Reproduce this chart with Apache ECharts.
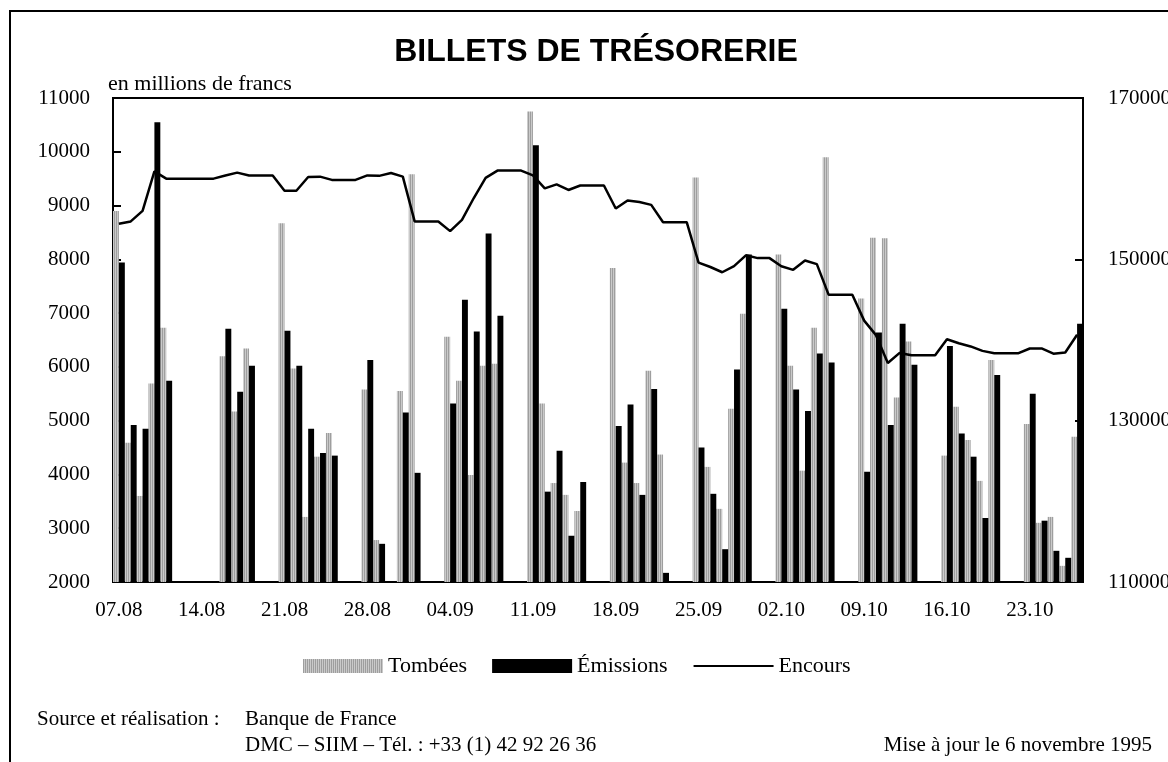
<!DOCTYPE html>
<html>
<head>
<meta charset="utf-8">
<script src="https://cdn.jsdelivr.net/npm/echarts@6.0.0/dist/echarts.min.js"></script>
<style>
html,body{margin:0;padding:0;background:#fff;overflow:hidden;}
#chart{width:1168px;height:762px;}
</style>
</head>
<body>
<div id="chart"></div>
<script>
const categories = ['07.08','08.08','09.08','10.08','11.08','12.08','13.08','14.08','15.08','16.08','17.08','18.08','19.08','20.08','21.08','22.08','23.08','24.08','25.08','26.08','27.08','28.08','29.08','30.08','31.08',
'01.09','02.09','03.09','04.09','05.09','06.09','07.09','08.09','09.09','10.09','11.09','12.09','13.09','14.09','15.09','16.09','17.09','18.09','19.09','20.09','21.09','22.09','23.09','24.09','25.09','26.09','27.09','28.09','29.09','30.09',
'01.10','02.10','03.10','04.10','05.10','06.10','07.10','08.10','09.10','10.10','11.10','12.10','13.10','14.10','15.10','16.10','17.10','18.10','19.10','20.10','21.10','22.10','23.10','24.10','25.10','26.10','27.10'];

const tombees = [8900,4590,3600,5690,6730,null,null,null,null,6200,5170,6340,null,null,8670,5970,3210,4330,4770,null,null,5580,2780,null,5550,9580,null,null,6560,5740,3990,6020,6060,null,null,10750,5320,3840,3620,3320,null,null,7840,4220,3840,5930,4370,null,null,9520,4140,3360,5220,6990,null,null,8090,6020,4070,6730,9900,null,null,7270,8400,8390,5430,6470,null,null,4350,5260,4640,3880,6130,null,null,4940,3100,3210,2300,4700];

const emissions = [7940,4920,4850,10550,5740,null,null,null,null,6710,5540,6020,null,null,6670,6020,4850,4400,4350,null,null,6130,2710,null,5150,4030,null,null,5320,7250,6660,8480,6950,null,null,10120,3680,4440,2860,3860,null,null,4900,5300,3620,5590,2170,null,null,4500,3640,2610,5950,8090,null,null,7080,5580,5180,6250,6080,null,null,4050,6640,4920,6800,6040,null,null,6390,4760,4330,3190,5850,null,null,5500,3140,2580,2450,6800];

const encours = [154400,154700,156000,160900,160000,160000,160000,160000,160000,160400,160750,160400,160400,160400,158500,158500,160200,160250,159850,159850,159850,160400,160350,160700,160250,154700,154700,154700,153500,154900,157600,160100,161000,161000,161000,160400,158800,159300,158600,159150,159150,159150,156300,157300,157100,156750,154600,154600,154600,149600,149050,148400,149150,150500,150150,150150,149150,148700,149850,149400,145600,145600,145600,142400,140600,137150,138400,138100,138100,138100,140100,139600,139200,138650,138350,138350,138350,138950,138950,138300,138450,140650];

const leftTicks = [2000, 11000, 1000];
const rightLabels = [110000, 130000, 150000, 170000];
const rightTicks = [130000, 150000];

const seriesNames = ['Tombées', 'Émissions', 'Encours'];

// vertical stripe pattern for Tombées
const pc = document.createElement('canvas');
pc.width = 2; pc.height = 2;
const pctx = pc.getContext('2d');
pctx.fillStyle = '#9e9e9e'; pctx.fillRect(0,0,1,2);
pctx.fillStyle = '#cacaca'; pctx.fillRect(1,0,1,2);

const serif = 'Liberation Serif';
const plain = v => String(v);
const chart = echarts.init(document.getElementById('chart'), null, {renderer:'canvas'});
chart.setOption({
  backgroundColor: '#fff',
  animation: false,
  title: {
    text: 'BILLETS DE TRÉSORERIE',
    left: 591, top: 31, textAlign: 'center',
    textStyle: {fontFamily: 'Liberation Sans', fontWeight: 'bold', fontSize: 32, color: '#000'}
  },
  legend: {
    left: 298, top: 650, itemWidth: 80, itemHeight: 14, itemGap: 25,
    data: [
      {name: seriesNames[0], icon: 'rect'},
      {name: seriesNames[1], icon: 'rect'},
      {name: seriesNames[2], itemStyle: {color: 'rgba(0,0,0,0)', borderColor: 'rgba(0,0,0,0)', borderWidth: 0, opacity: 0}}
    ],
    textStyle: {fontFamily: serif, fontSize: 22, color: '#000'}
  },
  grid: {left: 113, right: 85, top: 98, bottom: 180, show: true, borderColor: '#000', borderWidth: 2,
         containLabel: false, outerBoundsMode: 'none'},
  xAxis: {
    type: 'category', data: categories, boundaryGap: true,
    axisLine: {lineStyle: {color: '#000', width: 2}},
    axisTick: {inside: true, length: 6, interval: 6, lineStyle: {color: '#000', width: 2}},
    axisLabel: {interval: 6, margin: 18, fontFamily: serif, fontSize: 21, color: '#000'},
    splitLine: {show: false}
  },
  yAxis: [
    {
      type: 'value', min: leftTicks[0], max: leftTicks[1], interval: leftTicks[2],
      axisLine: {show: true, lineStyle: {color: '#000', width: 2}},
      axisTick: {show: true, inside: true, length: 8, lineStyle: {color: '#000', width: 2}},
      axisLabel: {margin: 23, fontFamily: serif, fontSize: 21, color: '#000', formatter: plain},
      splitLine: {show: false}
    },
    {
      type: 'value', position: 'right', min: rightLabels[0], max: rightLabels[rightLabels.length-1],
      axisLine: {show: true, lineStyle: {color: '#000', width: 2}},
      axisTick: {show: true, inside: true, length: 8, customValues: rightTicks, lineStyle: {color: '#000', width: 2}},
      axisLabel: {margin: 25, customValues: rightLabels, fontFamily: serif, fontSize: 21, color: '#000', formatter: plain},
      splitLine: {show: false}
    }
  ],
  series: [
    {name: seriesNames[0], type: 'bar', data: tombees, barGap: '0%', barCategoryGap: '0%',
     itemStyle: {color: {image: pc, repeat: 'repeat'}}, z: 2},
    {name: seriesNames[1], type: 'bar', data: emissions, barGap: '0%', barCategoryGap: '0%',
     itemStyle: {color: '#000'}, z: 2},
    {name: seriesNames[2], type: 'line', yAxisIndex: 1, data: encours, symbol: 'none',
     lineStyle: {color: '#000', width: 2.5}, itemStyle: {color: '#000'}, z: 5}
  ],
  graphic: [
    {type: 'rect', shape: {x: 10, y: 11, width: 1250, height: 850}, style: {fill: 'none', stroke: '#000', lineWidth: 2}, silent: true},
    {type: 'text', x: 108, y: 84, style: {text: 'en millions de francs', font: '22px "Liberation Serif"', fill: '#000', textVerticalAlign: 'middle'}},
    {type: 'text', x: 37, y: 719, style: {text: 'Source et réalisation :', font: '21px "Liberation Serif"', fill: '#000', textVerticalAlign: 'middle'}},
    {type: 'text', x: 245, y: 719, style: {text: 'Banque de France', font: '21px "Liberation Serif"', fill: '#000', textVerticalAlign: 'middle'}},
    {type: 'text', x: 245, y: 745, style: {text: 'DMC – SIIM – Tél. : +33 (1) 42 92 26 36', font: '21px "Liberation Serif"', fill: '#000', textVerticalAlign: 'middle'}},
    {type: 'text', x: 1152, y: 745, style: {text: 'Mise à jour le 6 novembre 1995', font: '21px "Liberation Serif"', fill: '#000', textAlign: 'right', textVerticalAlign: 'middle'}}
  ]
});
</script>
</body>
</html>
